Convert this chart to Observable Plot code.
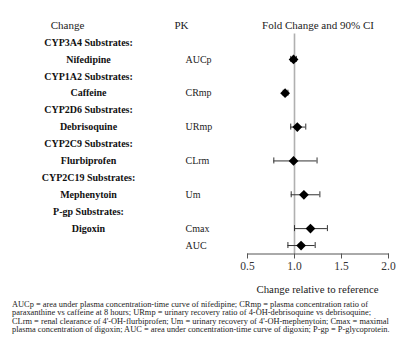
<!DOCTYPE html>
<html>
<head>
<meta charset="utf-8">
<script src="https://cdn.jsdelivr.net/npm/d3@7"></script>
<script src="https://cdn.jsdelivr.net/npm/@observablehq/plot@0.6"></script>
<style>
  html, body { margin: 0; padding: 0; background: #fff; overflow: hidden; }
  #chart svg { display: block; }
  #xtitle { font-family: "Liberation Serif", serif; font-size: 10.8px; line-height: 13px; color: #222; text-align: center; margin-top: 2.5px; }
  #note { font-family: "Liberation Serif", serif; font-size: 8.4px; line-height: 8.6px; color: #222; padding-left: 12px; margin-top: 5px; white-space: nowrap; }
</style>
</head>
<body>
<div id="chart"></div>
<div id="xtitle"></div>
<div id="note"></div>
<script>
// ---- data ----
const groupLabels = ["CYP3A4 Substrates:", "CYP1A2 Substrates:", "CYP2D6 Substrates:", "CYP2C9 Substrates:", "CYP2C19 Substrates:", "P-gp Substrates:"];
const drugs = ["Nifedipine", "Caffeine", "Debrisoquine", "Flurbiprofen", "Mephenytoin", "Digoxin"];
const pkDrug = ["Nifedipine", "Caffeine", "Debrisoquine", "Flurbiprofen", "Mephenytoin", "Digoxin", "Digoxin"];
const pkParams = ["AUCp", "CRmp", "URmp", "CLrm", "Um", "Cmax", "AUC"];
const foldChange = [0.99, 0.90, 1.03, 0.99, 1.10, 1.17, 1.07];
const ciLower = [0.96, 0.88, 0.96, 0.78, 0.965, 1.00, 0.93];
const ciUpper = [1.02, 0.93, 1.12, 1.24, 1.27, 1.35, 1.22];
const xTicks = [0.5, 1.0, 1.5, 2.0];
const xTitle = "Change relative to reference";
const footLines = [
  "AUCp = area under plasma concentration-time curve of nifedipine; CRmp = plasma concentration ratio of",
  "paraxanthine vs caffeine at 8 hours; URmp = urinary recovery ratio of 4-OH-debrisoquine vs debrisoquine;",
  "CLrm = renal clearance of 4'-OH-flurbiprofen; Um = urinary recovery of 4'-OH-mephenytoin; Cmax = maximal",
  "plasma concentration of digoxin; AUC = area under concentration-time curve of digoxin; P-gp = P-glycoprotein."
];

// ---- build rows ----
const textRows = [];  // {idx, name, pk}
const pkRows = [];    // {idx, est, lo, hi}
let idx = 0;
drugs.forEach((drug, g) => {
  textRows.push({idx: idx, name: groupLabels[g], pk: ""});
  idx++;
  let first = true;
  pkParams.forEach((p, k) => {
    if (pkDrug[k] !== drug) return;
    textRows.push({idx: idx, name: first ? drug : "", pk: p});
    pkRows.push({idx: idx, est: foldChange[k], lo: ciLower[k], hi: ciUpper[k]});
    first = false;
    idx++;
  });
});
const nRows = idx;

const W = 415, H = 280;
const ML = 247, MR = 27, MT = 33.5, MB = H - 253.5;
const font = "Liberation Serif, Times New Roman, serif";

const chart = Plot.plot({
  width: W, height: H,
  marginLeft: ML, marginRight: MR, marginTop: MT, marginBottom: MB,
  style: {fontFamily: font, background: "#fff", color: "#222"},
  x: {domain: [0.5, 2.0]},
  y: {type: "point", domain: d3.range(nRows), padding: 0.5, round: false, axis: null},
  marks: [
    Plot.ruleX([1], {stroke: "#b0b0b0", strokeWidth: 1.6}),
    Plot.frame({anchor: "bottom", stroke: "#555"}),
    Plot.axisX({ticks: xTicks, tickFormat: d3.format(".1f"), tickSize: 5, tickPadding: 3,
      fontSize: 11.5, stroke: "#555", color: "#333", label: null}),
    Plot.ruleY(pkRows, {y: "idx", x1: "lo", x2: "hi", stroke: "#333", strokeWidth: 1}),
    Plot.ruleX(pkRows, {x: "lo", y1: "idx", y2: "idx", stroke: "#333", insetTop: -3, insetBottom: -3}),
    Plot.ruleX(pkRows, {x: "hi", y1: "idx", y2: "idx", stroke: "#333", insetTop: -3, insetBottom: -3}),
    Plot.dot(pkRows, {x: "est", y: "idx", symbol: "diamond2", r: 4.4, fill: "#000", stroke: "none"}),
    // left columns
    Plot.text(textRows, {y: "idx", text: "name", frameAnchor: "left", textAnchor: "middle", dx: -159,
      fontWeight: "bold", fontSize: 10, fill: "#111"}),
    Plot.text(textRows, {y: "idx", text: "pk", frameAnchor: "left", textAnchor: "start", dx: -62,
      fontSize: 10, fill: "#222"}),
    // header row
    Plot.text(["Change"], {frameAnchor: "top-left", textAnchor: "middle", dx: -180, dy: -8.5, fontSize: 11, fill: "#222", lineAnchor: "middle"}),
    Plot.text(["PK"], {frameAnchor: "top-left", textAnchor: "middle", dx: -66, dy: -8.5, fontSize: 11, fill: "#222", lineAnchor: "middle"}),
    Plot.text(["Fold Change and 90% CI"], {frameAnchor: "top", textAnchor: "middle", dy: -8.5, fontSize: 11, fill: "#222", lineAnchor: "middle"})
  ]
});
document.getElementById("chart").appendChild(chart);
const xt = document.getElementById("xtitle");
xt.style.marginLeft = ML + "px";
xt.style.width = (W - ML - MR) + "px";
xt.textContent = xTitle;
document.getElementById("note").innerHTML = footLines.join("<br>");
</script>
</body>
</html>
